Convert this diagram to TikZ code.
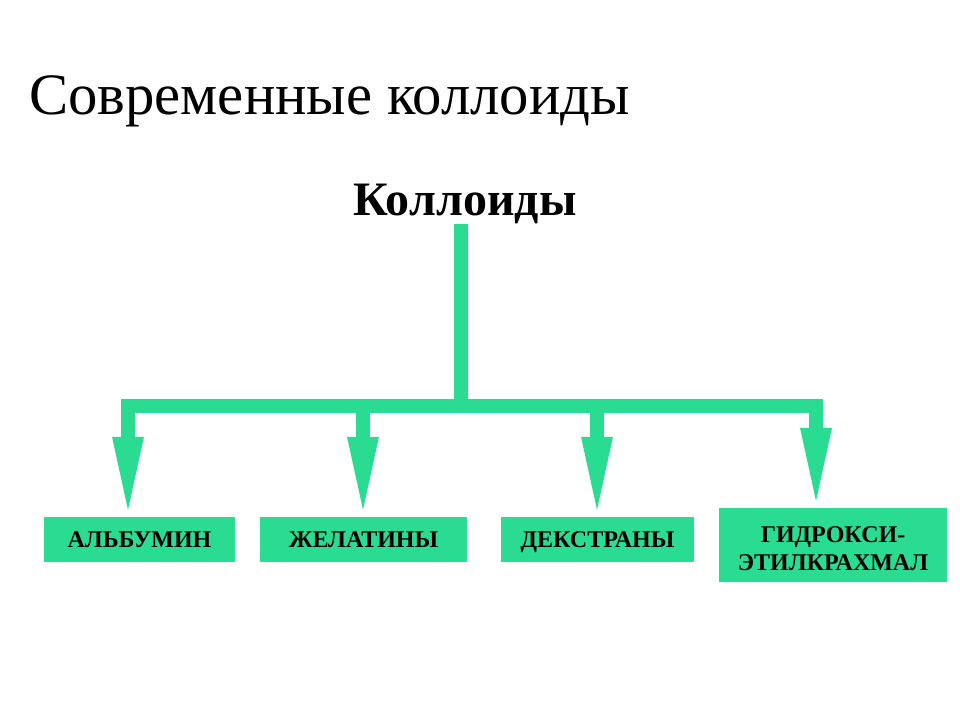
\documentclass[tikz,border=0pt]{standalone}
\usepackage{fontspec}
\setmainfont{Liberation Serif}
\usetikzlibrary{arrows.meta}
\definecolor{kolgreen}{RGB}{42,219,146}
\begin{document}
\begin{tikzpicture}[x=1pt,y=-1pt,
		bar/.style={draw=kolgreen,line width=14pt},
		tip/.style={-{Triangle[length=73pt,width=32pt,line width=0pt]},shorten >=7pt},
		kolbox/.style={fill=kolgreen,inner sep=0pt,align=center,font=\fontsize{24}{28}\selectfont\bfseries}]
		\useasboundingbox (0,0) rectangle (960,720);
		%titles
		\node[anchor=base west,inner sep=0pt,font=\fontsize{58.7}{64}\selectfont] (title) at (29,114) {Современные коллоиды};
		\node[anchor=base,inner sep=0pt,font=\fontsize{48}{52}\selectfont\bfseries] (koll) at (465,215) {Коллоиды};
		
		%boxes
		\node[kolbox,minimum width=191pt,minimum height=45pt,text height=16pt,text depth=0pt] (alb) at (139.5,539.5) {АЛЬБУМИН};
		\node[kolbox,minimum width=207pt,minimum height=45pt,text height=16pt,text depth=0pt] (gel) at (363.5,539.5) {ЖЕЛАТИНЫ};
		\node[kolbox,minimum width=193pt,minimum height=45pt,text height=16pt,text depth=0pt] (dex) at (597.5,539.5) {ДЕКСТРАНЫ};
		\node[kolbox,minimum width=228pt,minimum height=74pt] (hes) at (833,545) {\rule{0pt}{23pt}ГИДРОКСИ-\\ЭТИЛКРАХМАЛ};
		
		%branches
		\coordinate (fork) at (461,406);
		\coordinate (b1) at (128,406);
		\coordinate (b2) at (363,406);
		\coordinate (b3) at (597,406);
		\coordinate (b4) at (816,406);
		\draw[bar] (koll.south -| fork) -- (fork);
		\draw[bar,line cap=rect] (b1) -- (b4);
		\draw[bar,tip] (b1) -- (b1 |- alb.north);
		\draw[bar,tip] (b2) -- (b2 |- gel.north);
		\draw[bar,tip] (b3) -- (b3 |- dex.north);
		\draw[bar,tip] (b4) -- (b4 |- hes.north);
		
		\end{tikzpicture}
\end{document}
